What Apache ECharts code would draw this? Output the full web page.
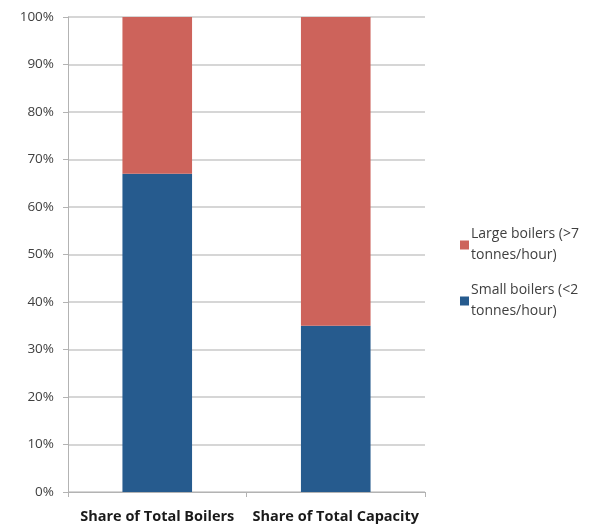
<!DOCTYPE html>
<html>
<head>
<meta charset="utf-8">
<script src="https://cdn.jsdelivr.net/npm/echarts@6/dist/echarts.min.js"></script>
<style>
  html, body { margin: 0; padding: 0; background: #fff; }
  #charts { width: 592px; height: 524px; }
</style>
</head>
<body>
<div id="charts"></div>
<script>
const categories = ['Share of Total Boilers', 'Share of Total Capacity']
const smallBoilers = [67, 35]
const largeBoilers = [33, 65]
const seriesNames = ['Large boilers (>7\ntonnes/hour)', 'Small boilers (<2\ntonnes/hour)']

const myCharts = echarts.init(document.getElementById('charts'))
myCharts.setOption({
    animation: false,
    textStyle: { fontFamily: 'Open Sans' },
    grid: { left: 68, right: 167, top: 17, bottom: 32 },
    legend: {
        orient: 'vertical',
        left: 455,
        top: 219,
        itemWidth: 9,
        itemHeight: 9,
        itemGap: 14,
        icon: 'rect',
        data: [seriesNames[0], seriesNames[1]],
        textStyle: { fontSize: 14, color: '#404040', lineHeight: 21, padding: [0, 0, 0, -3] }
    },
    xAxis: {
        type: 'category',
        data: categories,
        axisLine: { lineStyle: { color: '#b3b3b3' } },
        axisTick: { show: true, length: 5, lineStyle: { color: '#b3b3b3' } },
        axisLabel: { interval: 0, color: '#1a1a1a', fontWeight: 'bold', fontSize: 14.5, margin: 17 }
    },
    yAxis: {
        type: 'value',
        min: 0,
        max: 100,
        interval: 10,
        axisLine: { show: true, lineStyle: { color: '#b3b3b3' } },
        axisTick: { show: true, length: 5, lineStyle: { color: '#b3b3b3' } },
        axisLabel: { formatter: '{value}%', color: '#404040', fontSize: 13.5, margin: 14 },
        splitLine: { lineStyle: { color: '#c8c8c8', width: 1.5 } }
    },
    series: [{
        name: seriesNames[1],
        type: 'bar',
        stack: 'total',
        barWidth: '39%',
        itemStyle: { color: '#265B8E' },
        data: smallBoilers
    }, {
        name: seriesNames[0],
        type: 'bar',
        stack: 'total',
        itemStyle: { color: '#CD635B' },
        data: largeBoilers
    }]
})
</script>
</body>
</html>
